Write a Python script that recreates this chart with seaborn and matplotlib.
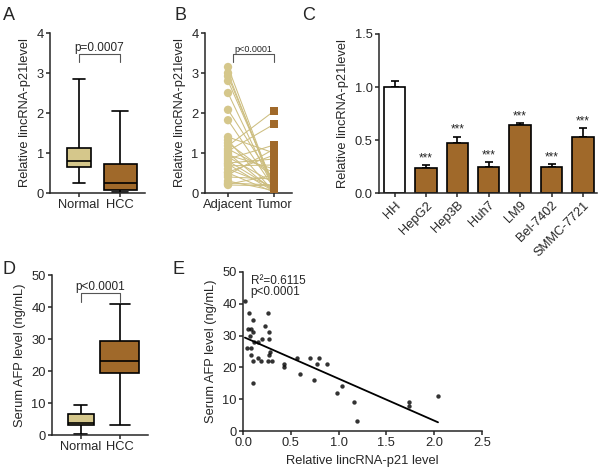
import numpy as np
import pandas as pd
import matplotlib
matplotlib.use("Agg")
import matplotlib.pyplot as plt
import seaborn as sns

# colours
KHAKI = "#D5C78B"
BROWN = "#A0692A"
PAIR_LINE = "#CDBE80"

# ---- data ----
groups = ["Normal", "HCC"]
# A: min, q1, median, q3, max (min-max whiskers)
a_normal = [0.25, 0.65, 0.80, 1.12, 2.85]
a_hcc = [0.03, 0.08, 0.25, 0.73, 2.05]

# B: paired adjacent / tumor values
b_adjacent = [3.15, 3.00, 2.92, 2.80, 2.50, 2.08, 1.82, 1.40, 1.32, 1.25,
              1.18, 1.10, 1.05, 1.00, 0.95, 0.90, 0.85, 0.80, 0.75, 0.72,
              0.68, 0.60, 0.52, 0.50, 0.45, 0.40, 0.30, 0.25, 0.22, 0.20]
b_tumor = [0.10, 0.05, 0.15, 0.20, 0.08, 0.30, 0.12, 1.00, 0.02, 0.40,
           2.05, 0.50, 1.72, 0.03, 0.60, 0.25, 1.20, 0.10, 0.85, 0.04,
           0.70, 0.15, 0.95, 0.02, 1.10, 0.35, 0.06, 0.20, 0.45, 0.18]

# C: cell lines
c_lines = ["HH", "HepG2", "Hep3B", "Huh7", "LM9", "Bel-7402", "SMMC-7721"]
c_mean = [1.00, 0.24, 0.47, 0.25, 0.64, 0.25, 0.53]
c_sem = [0.06, 0.02, 0.06, 0.04, 0.02, 0.02, 0.08]

# D: serum AFP, min, q1, median, q3, max
d_normal = [0.3, 3.0, 3.8, 6.5, 9.5]
d_hcc = [3.0, 19.5, 23.0, 29.5, 41.0]

# E: correlation
e_x = [0.02, 0.06, 0.10, 0.05, 0.08, 0.07, 0.10, 0.11, 0.04, 0.08,
       0.08, 0.10, 0.10, 0.16, 0.16, 0.19, 0.20, 0.23, 0.26, 0.27,
       0.27, 0.27, 0.28, 0.26, 0.30, 0.43, 0.43, 0.57, 0.60, 0.70,
       0.74, 0.77, 0.79, 0.88, 0.98, 1.04, 1.16, 1.19, 1.74, 1.74, 2.04]
e_y = [41, 37, 35, 32, 32, 30, 31, 28, 26, 26,
       24, 22, 15, 28, 23, 22, 29, 33, 37, 29,
       31, 24, 25, 22, 22, 21, 20, 23, 18, 23,
       16, 21, 23, 21, 12, 14, 9, 3, 9, 8, 11]

sns.set_style("ticks")
plt.rcParams["font.family"] = ["Liberation Sans", "DejaVu Sans"]
plt.rcParams["font.size"] = 9
plt.rcParams["axes.linewidth"] = 1.1
plt.rcParams["xtick.major.width"] = 1.1
plt.rcParams["ytick.major.width"] = 1.1
plt.rcParams["xtick.major.size"] = 3
plt.rcParams["ytick.major.size"] = 3
plt.rcParams["xtick.major.pad"] = 1.5
plt.rcParams["ytick.major.pad"] = 1.5
plt.rcParams["xtick.labelsize"] = 9.3
plt.rcParams["ytick.labelsize"] = 9.3
plt.rcParams["axes.labelsize"] = 9.3

W, H = 600, 469
fig = plt.figure(figsize=(W / 100, H / 100), dpi=100)


def px_axes(left, top, right, bottom):
    return fig.add_axes([left / W, 1 - bottom / H, (right - left) / W, (bottom - top) / H])


def bracket(ax, x0, x1, ytop, ylow, text, size):
    ax.plot([x0, x0, x1, x1], [ylow, ytop, ytop, ylow], color="#555555", lw=0.8, clip_on=False)
    ax.text((x0 + x1) / 2, ytop, text, ha="center", va="bottom", fontsize=size)


def box_panel(ax, normal, hcc, widths):
    df = pd.DataFrame({"group": ["Normal"] * len(normal) + ["HCC"] * len(hcc),
                       "value": normal + hcc})
    for g, col, w in zip(groups, [KHAKI, BROWN], widths):
        sns.boxplot(data=df[df["group"] == g], x="group", y="value", order=groups,
                    whis=(0, 100), width=w, color=col, linecolor="black",
                    linewidth=1.2, saturation=1, ax=ax)
    ax.set_xlabel("")
    sns.despine(ax=ax)


# ---- A ----
axA = px_axes(50, 33, 145, 193)
box_panel(axA, a_normal, a_hcc, [0.58, 0.8])
axA.set_ylim(0, 4)
axA.set_xlim(-0.7, 1.6)
axA.set_yticks([0, 1, 2, 3, 4])
axA.set_ylabel("Relative lincRNA-p21level")
bracket(axA, 0, 1, 3.47, 3.28, "p=0.0007", 8.5)

# ---- B ----
axB = px_axes(205, 33, 292, 193)
pairs = pd.DataFrame({
    "pair": list(range(len(b_adjacent))) * 2,
    "pos": [0] * len(b_adjacent) + [1] * len(b_tumor),
    "group": ["Adjacent"] * len(b_adjacent) + ["Tumor"] * len(b_tumor),
    "value": b_adjacent + b_tumor,
})
sns.lineplot(data=pairs, x="pos", y="value", units="pair", estimator=None,
             color=PAIR_LINE, lw=0.75, ax=axB, legend=False)
sns.scatterplot(data=pairs, x="pos", y="value", hue="group", style="group",
                palette={"Adjacent": KHAKI, "Tumor": BROWN},
                markers={"Adjacent": "o", "Tumor": "s"}, s=36, linewidth=0,
                ax=axB, legend=False, zorder=3)
axB.set_xlim(-0.5, 1.39)
axB.set_ylim(0, 4)
axB.set_xticks([0, 1])
axB.set_xticklabels(["Adjacent", "Tumor"])
axB.set_yticks([0, 1, 2, 3, 4])
axB.set_xlabel("")
axB.set_ylabel("Relative lincRNA-p21level")
sns.despine(ax=axB)
bracket(axB, 0.1, 1, 3.47, 3.28, "p<0.0001", 6.5)

# ---- C ----
axC = px_axes(379, 34, 597, 193)
cdf = pd.DataFrame({"line": c_lines, "mean": c_mean, "sem": c_sem})
sns.barplot(data=cdf, x="line", y="mean", order=c_lines,
            palette=["white"] + [BROWN] * 6, hue="line", legend=False,
            edgecolor="black", linewidth=1.2, width=0.68, saturation=1,
            errorbar=None, ax=axC)
xs = np.arange(len(c_lines))
axC.errorbar(xs, cdf["mean"], yerr=[np.zeros(len(xs)), cdf["sem"]], fmt="none",
             ecolor="black", elinewidth=1.2, capsize=2.8, capthick=1.2, zorder=0)
for i in range(1, len(c_lines)):
    axC.text(xs[i], c_mean[i] + c_sem[i] + 0.01, "***", ha="center", va="bottom", fontsize=8.5)
axC.set_xlim(-0.5, 6.45)
axC.set_ylim(0, 1.5)
axC.set_yticks([0, 0.5, 1.0, 1.5])
axC.set_yticklabels(["0.0", "0.5", "1.0", "1.5"])
axC.set_xlabel("")
axC.set_ylabel("Relative lincRNA-p21level")
plt.setp(axC.get_xticklabels(), rotation=45, ha="right", rotation_mode="anchor")
sns.despine(ax=axC)

# ---- D ----
axD = px_axes(52, 275, 148, 435)
box_panel(axD, d_normal, d_hcc, [0.66, 1.0])
axD.set_ylim(0, 50)
axD.set_xlim(-0.74, 1.72)
axD.set_yticks([0, 10, 20, 30, 40, 50])
axD.set_ylabel("Serum AFP level (ng/mL)")
bracket(axD, 0, 1, 44.4, 41.6, "p<0.0001", 8.5)

# ---- E ----
axE = px_axes(243, 272, 482, 431)
sns.regplot(x=e_x, y=e_y, ci=None, ax=axE,
            scatter_kws=dict(s=10, color="black", linewidths=0),
            line_kws=dict(color="black", lw=1.3))
axE.set_xlim(0, 2.5)
axE.set_ylim(0, 50)
axE.set_xticks([0, 0.5, 1.0, 1.5, 2.0, 2.5])
axE.set_xticklabels(["0.0", "0.5", "1.0", "1.5", "2.0", "2.5"])
axE.set_yticks([0, 10, 20, 30, 40, 50])
axE.set_xlabel("Relative lincRNA-p21 level")
axE.set_ylabel("Serum AFP level (ng/mL)")
axE.text(0.08, 47.2, "R\u00b2=0.6115", ha="left", va="center", fontsize=8.5)
axE.text(0.08, 43.7, "p<0.0001", ha="left", va="center", fontsize=8.5)
sns.despine(ax=axE)

# panel letters
for letter, x, y in [("A", 3, 7), ("B", 175, 7), ("C", 302, 7), ("D", 3, 261), ("E", 173, 261)]:
    fig.text(x / W, 1 - y / H, letter, ha="left", va="top", fontsize=13)

fig.savefig("out.png", dpi=100)
